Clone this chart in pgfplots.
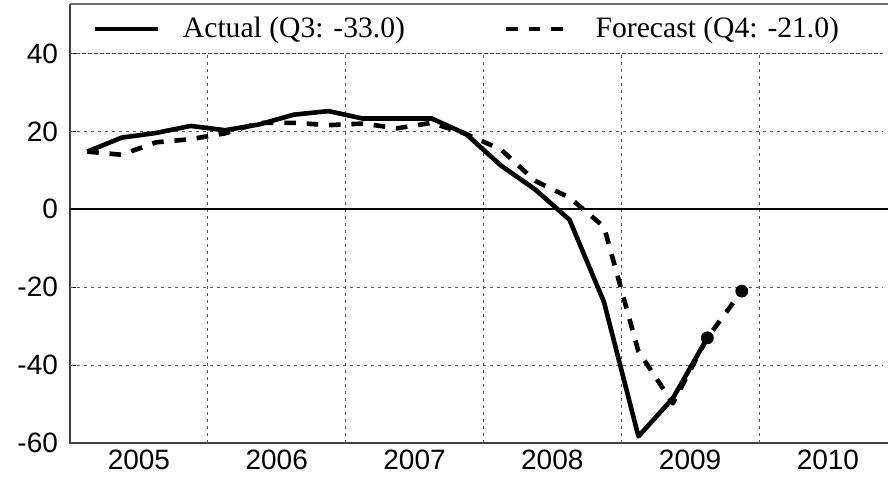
\documentclass[border=0pt]{standalone}
\usepackage{pgfplots}
\pgfplotsset{compat=1.18}
\usepackage{fontspec}
\setmainfont{Liberation Serif}
\newfontfamily\arial{Liberation Sans}

\pgfplotsset{
  legsolid/.style={legend image code/.code={\draw[##1] (0pt,0pt) -- (31.5pt,0pt);}},
  legdash/.style={legend image code/.code={\draw[##1] (0pt,0pt) -- (28.6pt,0pt);}},
}

\pgfplotstableread{
t v
2005.125 14.8
2005.375 18.4
2005.625 19.6
2005.875 21.4
2006.125 20.3
2006.375 21.8
2006.625 24.3
2006.875 25.2
2007.125 23.3
2007.375 23.3
2007.625 23.3
2007.875 19.3
2008.125 11.3
2008.375 5.1
2008.625 -2.7
2008.875 -23.8
2009.125 -58.3
2009.375 -48.5
2009.625 -33.0
}\actual

\pgfplotstableread{
t v
2005.125 14.8
2005.375 14.0
2005.625 17.2
2005.875 18.0
2006.125 19.5
2006.375 22.2
2006.625 22.2
2006.875 21.6
2007.125 22.0
2007.375 20.8
2007.625 22.2
2007.875 19.3
2008.125 15.4
2008.375 7.3
2008.625 3.0
2008.875 -4.5
2009.125 -36.5
2009.375 -49.8
2009.625 -33.0
2009.875 -21.0
}\forecast

\begin{document}
\begin{tikzpicture}
\useasboundingbox (-35pt,-18pt) rectangle (409pt,221.5pt);
\begin{axis}[
  at={(0,0)}, anchor=south west,
  scale only axis, width=409pt, height=219.5pt,
  xmin=2005, xmax=2010.936, ymin=-60, ymax=52.7,
  axis line style={draw=none},
  clip=false,
  xtick={2005.5,2006.5,2007.5,2008.5,2009.5,2010.5},
  xticklabels={2005,2006,2007,2008,2009,2010},
  ytick={-60,-40,-20,0,20,40},
  yticklabels={-60,-40,-20,0,20,40},
  xtick pos=bottom, ytick pos=left,
  tick align=inside,
  xtick style={draw=none},
  ytick style={black, line width=0.5pt},
  major tick length=3pt,
  ticklabel style={font=\arial\fontsize{14}{16}\selectfont},
  yticklabel style={xshift=-2.5pt},
  legend columns=2,
  legend style={at={(rel axis cs:0,1)}, anchor=west, xshift=11pt, yshift=-12.5pt,
    draw=none, fill=none, inner sep=0pt,
    font=\fontsize{14.8}{17}\selectfont,
    /tikz/column 1/.style={column sep=9.5pt},
    /tikz/column 2/.style={column sep=47.5pt},
    /tikz/column 3/.style={column sep=13pt}},
]
% frame and grid
\draw[black!55, line width=0.6pt] (axis cs:2005,52.7) -- (axis cs:2010.936,52.7);
\draw[black!75, line width=0.6pt] (axis cs:2005,52.7) -- (axis cs:2005,-60) -- (axis cs:2010.936,-60);
\draw[black!70, line width=0.5pt, dash pattern=on 2pt off 1pt] (axis cs:2005,40) -- (axis cs:2010.9,40);
\draw[black!65, line width=0.5pt, dash pattern=on 1.5pt off 2pt] (axis cs:2005,20) -- (axis cs:2010.9,20);
\draw[black!65, line width=0.5pt, dash pattern=on 1.5pt off 2pt] (axis cs:2005,-20) -- (axis cs:2010.9,-20);
\draw[black!65, line width=0.5pt, dash pattern=on 1.5pt off 2pt] (axis cs:2005,-40) -- (axis cs:2010.9,-40);
\draw[black!65, line width=0.5pt, dash pattern=on 1.5pt off 2pt] (axis cs:2006,-60) -- (axis cs:2006,40);
\draw[black!65, line width=0.5pt, dash pattern=on 1.5pt off 2pt] (axis cs:2007,-60) -- (axis cs:2007,40);
\draw[black!65, line width=0.5pt, dash pattern=on 1.5pt off 2pt] (axis cs:2008,-60) -- (axis cs:2008,40);
\draw[black!65, line width=0.5pt, dash pattern=on 1.5pt off 2pt] (axis cs:2009,-60) -- (axis cs:2009,40);
\draw[black!65, line width=0.5pt, dash pattern=on 1.5pt off 2pt] (axis cs:2010,-60) -- (axis cs:2010,40);
\draw[black, line width=1pt] (axis cs:2005,0) -- (axis cs:2010.936,0);

\addplot[black, line width=2.3pt, line join=round, legsolid] table[x=t,y=v] {\actual};
\addlegendentry{Actual (Q3: -33.0)}
\addplot[black, line width=2.3pt, dash pattern=on 5.8pt off 5.4pt, line join=round, legdash] table[x=t,y=v] {\forecast};
\addlegendentry{Forecast (Q4: -21.0)}
\addplot[black, only marks, mark=*, mark size=3pt, forget plot] coordinates {(2009.625,-33.0) (2009.875,-21.0)};
\end{axis}
\end{tikzpicture}
\end{document}
